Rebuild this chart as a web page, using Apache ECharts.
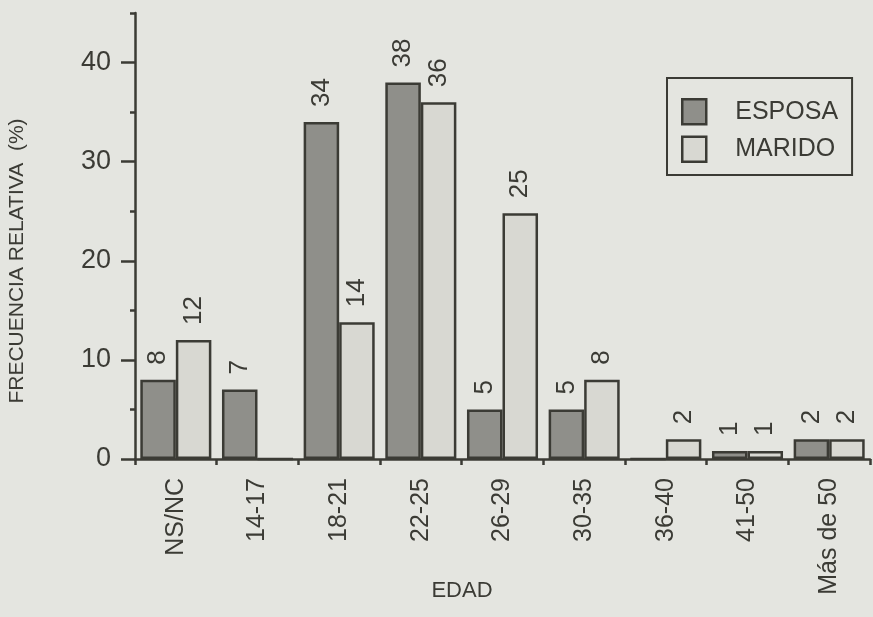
<!DOCTYPE html>
<html>
<head>
<meta charset="utf-8">
<script src="https://cdn.jsdelivr.net/npm/echarts@6/dist/echarts.min.js"></script>
<style>
html,body{margin:0;padding:0;background:#e4e5e0;}
#chart{width:873px;height:617px;}
</style>
</head>
<body>
<div id="chart"></div>
<script>
const categories = ['NS/NC', '14-17', '18-21', '22-25', '26-29', '30-35', '36-40', '41-50', 'Más de 50'];
const esposa = [8, 7, 34, 38, 5, 5, 0, 0.8, 2];
const marido = [12, 0, 13.8, 36, 24.8, 8, 2, 0.8, 2];
const seriesNames = ['ESPOSA', 'MARIDO'];
const yMajorTicks = [0, 10, 20, 30, 40];
const yMinorTicks = [5, 15, 25, 35, 45];

const ink = '#3b3b35';
const font = '"Liberation Sans", Arial, Helvetica, sans-serif';
const chart = echarts.init(document.getElementById('chart'));

const labelCfg = {
  show: true,
  position: 'top',
  rotate: 90,
  align: 'left',
  verticalAlign: 'middle',
  distance: 15,
  fontFamily: font,
  fontSize: 26,
  color: ink,
  formatter: p => (p.value === 0 ? '' : String(Math.round(p.value)))
};

chart.setOption({
  backgroundColor: '#e4e5e0',
  animation: false,
  textStyle: { fontFamily: font, color: ink },
  grid: { left: 135, right: 3, top: 13, bottom: 158, containLabel: false },
  legend: {
    data: seriesNames,
    orient: 'vertical',
    left: 667,
    top: 78,
    padding: [20, 14, 12, 14],
    itemWidth: 24,
    itemHeight: 25,
    itemGap: 10,
    borderColor: ink,
    borderWidth: 2,
    icon: 'rect',
    itemStyle: { borderColor: ink, borderWidth: 2.5 },
    textStyle: { fontFamily: font, fontSize: 25, color: ink, padding: [0, 0, 0, 24] }
  },
  xAxis: {
    type: 'category',
    data: categories,
    axisLine: { lineStyle: { color: ink, width: 2.5 } },
    axisTick: { show: true, length: 6, lineStyle: { color: ink, width: 2.5 } },
    axisLabel: { rotate: 90, margin: 19, fontFamily: font, fontSize: 25, color: ink, interval: 0 }
  },
  yAxis: [
    {
      type: 'value',
      min: 0,
      max: 45,
      interval: 5,
      splitLine: { show: false },
      axisLine: { show: true, lineStyle: { color: ink, width: 2.5 } },
      axisTick: { show: true, length: 14, customValues: yMajorTicks, lineStyle: { color: ink, width: 2.5 } },
      axisLabel: { customValues: yMajorTicks, margin: 24, fontFamily: font, fontSize: 27, color: ink }
    },
    {
      type: 'value',
      min: 0,
      max: 45,
      interval: 5,
      position: 'left',
      splitLine: { show: false },
      axisLine: { show: false },
      axisLabel: { show: false },
      axisTick: { show: true, length: 5, customValues: yMinorTicks, lineStyle: { color: ink, width: 2.5 } }
    }
  ],
  graphic: [
    {
      type: 'text',
      x: 17, y: 261,
      rotation: Math.PI / 2,
      style: { text: 'FRECUENCIA RELATIVA  (%)', font: '21px ' + font, fill: ink, align: 'center', verticalAlign: 'middle' }
    },
    {
      type: 'text',
      x: 462, y: 591,
      style: { text: 'EDAD', font: '22px ' + font, fill: ink, align: 'center', verticalAlign: 'middle' }
    }
  ],
  series: [
    {
      name: seriesNames[0],
      type: 'bar',
      data: esposa,
      barGap: '0%',
      barCategoryGap: '13%',
      itemStyle: { color: '#8f8f8a', borderColor: ink, borderWidth: 2.5 },
      label: labelCfg
    },
    {
      name: seriesNames[1],
      type: 'bar',
      data: marido,
      barGap: '0%',
      barCategoryGap: '13%',
      itemStyle: { color: '#d8d8d2', borderColor: ink, borderWidth: 2.5 },
      label: labelCfg
    }
  ]
});
</script>
</body>
</html>
